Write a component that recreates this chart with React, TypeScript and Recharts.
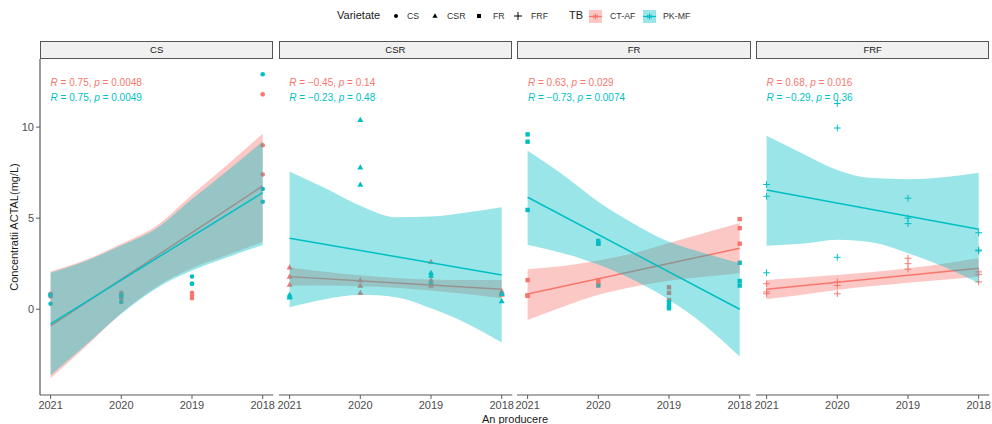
import React from "react";
import { Area, ComposedChart, Line, Scatter, XAxis, YAxis } from "recharts";

const FACETS = ["CS", "CSR", "FR", "FRF"];
const YEARS = [2021, 2020, 2019, 2018];
const BAND_X = [2021, 2020.5, 2020, 2019.5, 2019, 2018.5, 2018];
const FIT_X = [2021, 2018];
const X_TICKS = [2018, 2019, 2020, 2021];
const Y_TICKS = [0, 5, 10];

const RED = "#F8766D";
const TEAL = "#00BFC4";

// 3 samples per year, years in YEARS order
const CS_CTAF = [0.85, 0.8, 0.7, 0.9, 0.75, 0.6, 0.9, 0.75, 0.6, 11.8, 9.0, 7.4];
const CS_PKMF = [0.3, 0.8, 0.75, 0.4, 0.8, 0.7, 1.8, 1.4, 1.4, 12.9, 6.6, 5.9];
const CSR_CTAF = [2.3, 1.8, 1.35, 1.6, 1.3, 0.9, 2.6, 1.6, 1.3, 1.0, 0.8, 0.9];
const CSR_PKMF = [0.8, 0.65, 0.7, 10.4, 7.8, 6.85, 2.0, 1.85, 1.45, 0.45, 0.9, 0.85];
const FR_CTAF = [1.6, 0.75, 0.75, 1.6, 1.4, 3.6, 1.2, 0.9, 0.5, 4.95, 4.45, 3.6];
const FR_PKMF = [9.6, 9.2, 5.45, 3.75, 3.6, 1.3, 0.4, 0.2, 0.05, 2.55, 1.55, 1.3];
const FRF_CTAF = [1.4, 0.95, 0.85, 1.5, 1.3, 0.85, 2.8, 2.5, 2.2, 2.05, 1.9, 1.5];
const FRF_PKMF = [6.85, 6.2, 2.0, 11.3, 9.95, 2.85, 6.1, 5.0, 4.7, 4.2, 3.25, 3.2];

// fitted lines (value at 2021, value at 2018)
const CS_CTAF_FIT = [-0.92, 6.77];
const CS_PKMF_FIT = [-0.8, 6.4];
const CSR_CTAF_FIT = [1.79, 1.1];
const CSR_PKMF_FIT = [3.9, 1.88];
const FR_CTAF_FIT = [0.84, 3.35];
const FR_PKMF_FIT = [6.15, 0.0];
const FRF_CTAF_FIT = [1.1, 2.25];
const FRF_PKMF_FIT = [6.55, 4.39];

// confidence bands at BAND_X
const CS_CTAF_LO = [-3.79, -2.05, -0.22, 1.24, 2.25, 2.98, 3.71];
const CS_CTAF_HI = [2.07, 2.71, 3.59, 4.58, 6.28, 7.93, 9.63];
const CS_PKMF_LO = [-3.62, -1.95, -0.25, 1.15, 2.12, 2.85, 3.53];
const CS_PKMF_HI = [2.0, 2.65, 3.5, 4.45, 6.05, 7.6, 9.21];
const CSR_CTAF_LO = [1.29, 1.3, 1.26, 1.18, 1.03, 0.84, 0.6];
const CSR_CTAF_HI = [2.29, 2.06, 1.86, 1.72, 1.63, 1.6, 1.6];
const CSR_PKMF_LO = [0.11, 0.55, 0.79, 0.66, 0.05, -0.77, -1.83];
const CSR_PKMF_HI = [7.56, 6.65, 5.68, 5.05, 5.09, 5.31, 5.6];
const FR_CTAF_LO = [-0.59, 0.14, 0.79, 1.24, 1.57, 1.79, 1.98];
const FR_CTAF_HI = [2.2, 2.38, 2.67, 3.08, 3.63, 4.18, 4.73];
const FR_PKMF_LO = [3.53, 3.08, 2.45, 1.6, 0.52, -0.86, -2.6];
const FR_PKMF_HI = [8.7, 7.38, 5.9, 4.7, 3.7, 3.08, 2.53];
const FRF_CTAF_LO = [0.55, 0.8, 1.06, 1.27, 1.46, 1.62, 1.79];
const FRF_CTAF_HI = [1.61, 1.74, 1.88, 2.05, 2.25, 2.5, 2.8];
const FRF_PKMF_LO = [3.49, 3.59, 3.81, 3.66, 3.08, 2.34, 1.43];
const FRF_PKMF_HI = [9.52, 8.57, 7.65, 7.2, 7.14, 7.25, 7.5];

const CTAF_STATS = [["0.75", "0.0048"], ["\u22120.45", "0.14"], ["0.63", "0.029"], ["0.68", "0.016"]];
const PKMF_STATS = [["0.75", "0.0049"], ["\u22120.23", "0.48"], ["\u22120.73", "0.0074"], ["\u22120.29", "0.36"]];

const toPoints = (vals: number[]) => vals.map((y, i) => ({ x: YEARS[Math.floor(i / 3)], y }));
const toBand = (lo: number[], hi: number[]) => BAND_X.map((x, i) => ({ x, band: [lo[i], hi[i]] }));
const toFit = (vals: number[]) => FIT_X.map((x, i) => ({ x, y: vals[i] }));

const PANELS = [
  { shape: "circle", red: [CS_CTAF, CS_CTAF_FIT, CS_CTAF_LO, CS_CTAF_HI], teal: [CS_PKMF, CS_PKMF_FIT, CS_PKMF_LO, CS_PKMF_HI] },
  { shape: "triangle", red: [CSR_CTAF, CSR_CTAF_FIT, CSR_CTAF_LO, CSR_CTAF_HI], teal: [CSR_PKMF, CSR_PKMF_FIT, CSR_PKMF_LO, CSR_PKMF_HI] },
  { shape: "square", red: [FR_CTAF, FR_CTAF_FIT, FR_CTAF_LO, FR_CTAF_HI], teal: [FR_PKMF, FR_PKMF_FIT, FR_PKMF_LO, FR_PKMF_HI] },
  { shape: "plus", red: [FRF_CTAF, FRF_CTAF_FIT, FRF_CTAF_LO, FRF_CTAF_HI], teal: [FRF_PKMF, FRF_PKMF_FIT, FRF_PKMF_LO, FRF_PKMF_HI] },
];

const FONT = '"Liberation Sans", Arial, sans-serif';
const PLOT_LEFT = 40;
const PANEL_W = 233.3;
const PANEL_STEP = 238.67;
const PLOT_TOP = 59;
const CHART_H = 365;
const PAD = 8;
const AXIS_COLOR = "#5a5a5a";

function Mark({ kind, cx, cy, color }: { kind: string; cx: number; cy: number; color: string }) {
  if (kind === "circle") return <circle cx={cx} cy={cy} r={2.3} fill={color} />;
  if (kind === "triangle")
    return <polygon points={`${cx},${cy - 3} ${cx - 3},${cy + 2.2} ${cx + 3},${cy + 2.2}`} fill={color} />;
  if (kind === "square") return <rect x={cx - 2.2} y={cy - 2.2} width={4.4} height={4.4} fill={color} />;
  return <path d={`M${cx - 3.4},${cy}H${cx + 3.4}M${cx},${cy - 3.4}V${cy + 3.4}`} stroke={color} strokeWidth={1} fill="none" />;
}

const shapeFor = (kind: string, color: string) => (props: any) =>
  props.cx == null ? <g /> : <Mark kind={kind} cx={props.cx} cy={props.cy} color={color} />;

function Panel({ idx }: { idx: number }) {
  const p = PANELS[idx];
  const left = PLOT_LEFT + idx * PANEL_STEP;
  const first = idx === 0;
  const tickStyle = { fill: "#4d4d4d", fontSize: 11, fontFamily: FONT };
  const [rPts, rFit, rLo, rHi] = p.red;
  const [tPts, tFit, tLo, tHi] = p.teal;
  return (
    <div style={{ position: "absolute", left: first ? 0 : left - PAD, top: PLOT_TOP }}>
      <ComposedChart
        width={PANEL_W + (first ? PLOT_LEFT : PAD) + PAD}
        height={CHART_H}
        margin={{ top: 0, right: PAD, bottom: 0, left: first ? 0 : PAD }}
      >
        <XAxis
          dataKey="x"
          type="number"
          domain={[2017.85, 2021.15]}
          allowDataOverflow
          reversed
          ticks={X_TICKS}
          interval={0}
          height={29}
          tickSize={4}
          tick={tickStyle}
          stroke={AXIS_COLOR}
          axisLine={{ stroke: AXIS_COLOR, strokeWidth: 1.2 }}
          tickLine={{ stroke: AXIS_COLOR }}
        />
        <YAxis
          type="number"
          domain={[-4.71, 13.74]}
          allowDataOverflow
          ticks={Y_TICKS}
          width={PLOT_LEFT}
          hide={!first}
          tickSize={4}
          tick={tickStyle}
          axisLine={{ stroke: AXIS_COLOR, strokeWidth: 1.2 }}
          tickLine={{ stroke: AXIS_COLOR }}
        />
        <Scatter data={toPoints(rPts)} dataKey="y" shape={shapeFor(p.shape, RED)} isAnimationActive={false} zIndex={50} />
        <Scatter data={toPoints(tPts)} dataKey="y" shape={shapeFor(p.shape, TEAL)} isAnimationActive={false} zIndex={51} />
        <Area
          data={toBand(rLo, rHi)}
          dataKey="band"
          type="monotone"
          stroke="none"
          fill={RED}
          fillOpacity={0.4}
          dot={false}
          activeDot={false}
          isAnimationActive={false}
          zIndex={100}
        />
        <Line
          data={toFit(rFit)}
          dataKey="y"
          stroke={RED}
          strokeWidth={1.5}
          dot={false}
          activeDot={false}
          isAnimationActive={false}
          zIndex={110}
        />
        <Area
          data={toBand(tLo, tHi)}
          dataKey="band"
          type="monotone"
          stroke="none"
          fill={TEAL}
          fillOpacity={0.4}
          dot={false}
          activeDot={false}
          isAnimationActive={false}
          zIndex={120}
        />
        <Line
          data={toFit(tFit)}
          dataKey="y"
          stroke={TEAL}
          strokeWidth={1.5}
          dot={false}
          activeDot={false}
          isAnimationActive={false}
          zIndex={130}
        />
      </ComposedChart>
    </div>
  );
}

function StatLabel({ left, top, color, stat }: { left: number; top: number; color: string; stat: string[] }) {
  return (
    <div style={{ position: "absolute", left, top, color, fontSize: 10, lineHeight: "12px", whiteSpace: "nowrap" }}>
      <i>R</i> = {stat[0]}, <i>p</i> = {stat[1]}
    </div>
  );
}

function LegendKey({ color, fill }: { color: string; fill: string }) {
  return (
    <svg width={13} height={13} style={{ display: "block" }}>
      <rect x={0} y={0} width={13} height={13} fill={fill} />
      <line x1={0} y1={6.5} x2={13} y2={6.5} stroke={color} strokeWidth={1.2} />
      <path d="M6.5,3.5V9.5M4,5L9,8M9,5L4,8" stroke={color} strokeWidth={1} />
    </svg>
  );
}

function Legend() {
  const lbl = { position: "absolute" as const, top: 11, fontSize: 8.8, color: "#333", lineHeight: "11px" };
  const ttl = { position: "absolute" as const, top: 9, fontSize: 11, color: "#1a1a1a", lineHeight: "13px" };
  return (
    <div>
      <div style={{ ...ttl, left: 337 }}>Varietate</div>
      <svg style={{ position: "absolute", left: 390, top: 10 }} width={12} height={12}>
        <circle cx={6} cy={6} r={2} fill="#000" />
      </svg>
      <div style={{ ...lbl, left: 407 }}>CS</div>
      <svg style={{ position: "absolute", left: 429, top: 10 }} width={12} height={12}>
        <polygon points="6,3.3 3.4,7.8 8.6,7.8" fill="#000" />
      </svg>
      <div style={{ ...lbl, left: 447 }}>CSR</div>
      <svg style={{ position: "absolute", left: 473, top: 10 }} width={12} height={12}>
        <rect x={4} y={4} width={4} height={4} fill="#000" />
      </svg>
      <div style={{ ...lbl, left: 493 }}>FR</div>
      <svg style={{ position: "absolute", left: 512, top: 10 }} width={12} height={12}>
        <path d="M2,6H10M6,2V10" stroke="#000" strokeWidth={1} />
      </svg>
      <div style={{ ...lbl, left: 531 }}>FRF</div>
      <div style={{ ...ttl, left: 569 }}>TB</div>
      <div style={{ position: "absolute", left: 589, top: 10 }}>
        <LegendKey color={RED} fill="#FCC8C4" />
      </div>
      <div style={{ ...lbl, left: 610 }}>CT-AF</div>
      <div style={{ position: "absolute", left: 643, top: 10 }}>
        <LegendKey color={TEAL} fill="#99E5E7" />
      </div>
      <div style={{ ...lbl, left: 663 }}>PK-MF</div>
    </div>
  );
}

export default function App() {
  return (
    <div
      style={{
        position: "absolute",
        left: 0,
        top: 0,
        width: 992,
        height: 424,
        overflow: "hidden",
        background: "#fff",
        fontFamily: FONT,
      }}
    >
      <Legend />
      {FACETS.map((name, i) => {
        const left = PLOT_LEFT + i * PANEL_STEP;
        return (
          <div key={name}>
            <div
              style={{
                position: "absolute",
                left,
                top: 41,
                width: PANEL_W,
                height: 18,
                boxSizing: "border-box",
                border: "1px solid #555",
                background: "#f0f0f0",
                fontSize: 9.5,
                lineHeight: "16px",
                textAlign: "center",
                color: "#1a1a1a",
              }}
            >
              {name}
            </div>
            <Panel idx={i} />
            <StatLabel left={left + 10.6} top={77} color={RED} stat={CTAF_STATS[i]} />
            <StatLabel left={left + 10.6} top={92} color={TEAL} stat={PKMF_STATS[i]} />
          </div>
        );
      })}
      <div
        style={{
          position: "absolute",
          left: 14 - 100,
          top: 227 - 7,
          width: 200,
          height: 14,
          lineHeight: "14px",
          fontSize: 11,
          color: "#1a1a1a",
          textAlign: "center",
          transform: "rotate(-90deg)",
        }}
      >
        Concentratii ACTAL(mg/L)
      </div>
      <div
        style={{
          position: "absolute",
          left: 515 - 60,
          top: 413,
          width: 120,
          fontSize: 11,
          lineHeight: "13px",
          color: "#1a1a1a",
          textAlign: "center",
        }}
      >
        An producere
      </div>
    </div>
  );
}
